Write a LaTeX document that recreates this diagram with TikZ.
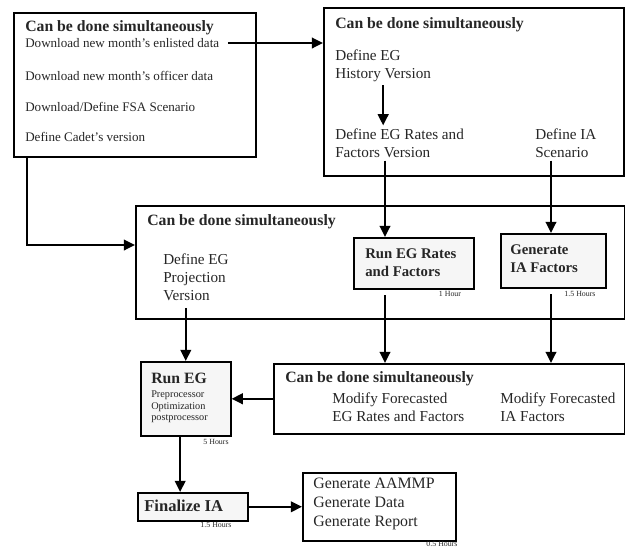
\documentclass[tikz,border=0pt]{standalone}
\usepackage{fontspec}
\setmainfont{Liberation Serif}
\usepackage{tikz}
\usetikzlibrary{arrows.meta, positioning, calc}
\tikzstyle{arrow} = [line width=1.7pt, -{Triangle[length=8pt, width=7.5pt]}]

\begin{document}
\begin{tikzpicture}[
  x=0.025cm, y=-0.025cm,
  grp/.style={draw, line width=1.1pt, anchor=north west, inner sep=0pt},
  task/.style={draw, line width=1.1pt, fill=gray!7, anchor=north west, inner sep=0pt},
  ttl/.style={anchor=west, inner sep=0pt, font=\fontsize{11.2}{13}\selectfont\bfseries},
  txt/.style={anchor=west, inner sep=0pt, align=left, font=\fontsize{10.8}{12.8}\selectfont},
  small/.style={anchor=west, inner sep=0pt, font=\fontsize{9.3}{11}\selectfont},
  tiny/.style={inner sep=0pt, font=\fontsize{5.6}{6}\selectfont},
  every node/.style={text=black!85}
]
\useasboundingbox (0,0) rectangle (625,547);

% First group: downloads
\node[grp, minimum width=6.05cm, minimum height=3.6cm] (grpA) at (13,12) {};
\node[ttl] (ttlA) at (25,28) {Can be done simultaneously};
\node[small] (dlEnl) at (25,43) {Download new month's enlisted data};
\node[small] (dlOff) at (25,76) {Download new month's officer data};
\node[small] (dlFsa) at (25,107) {Download/Define FSA Scenario};
\node[small] (cadet) at (25,137) {Define Cadet's version};

% Second group: versions and scenario
\node[grp, minimum width=7.5cm, minimum height=4.2cm] (grpB) at (323,7) {};
\node[ttl] (ttlB) at (335,25) {Can be done simultaneously};
\node[txt] (histB) at (335,66) {Define EG\\History Version};
\node[txt] (ratesB) at (335,143) {Define EG Rates and\\Factors Version};
\node[txt] (scenB) at (535,143) {Define IA\\Scenario};

% Third group: projection and runs
\node[grp, minimum width=12.225cm, minimum height=2.825cm] (grpC) at (135,205) {};
\node[ttl] (ttlC) at (147,222) {Can be done simultaneously};
\node[txt] (projC) at (163,277) {Define EG\\Projection\\Version};
\node[task, minimum width=3cm, minimum height=1.275cm] (runR) at (353,237) {};
\node[txt, font=\fontsize{10.5}{12.6}\selectfont\bfseries] (runRtxt) at (365,263) {Run EG Rates\\and Factors};
\node[tiny] (hrR) at (450,294) {1 Hour};
\node[task, minimum width=2.625cm, minimum height=1.35cm] (genI) at (500,233) {};
\node[txt, font=\fontsize{10.5}{12.6}\selectfont\bfseries] (genItxt) at (510,259) {Generate\\IA Factors};
\node[tiny] (hrI) at (580,294) {1.5 Hours};

% Run EG
\node[task, minimum width=2.25cm, minimum height=1.85cm] (runEG) at (140,361) {};
\node[ttl] (runEGttl) at (151,378) {Run EG};
\node[anchor=west, inner sep=0pt, align=left, font=\fontsize{7.3}{8.2}\selectfont] (runEGtxt) at (151,407) {Preprocessor\\Optimization\\postprocessor};
\node[tiny] (hrEG) at (216,442) {5 Hours};

% Fourth group: modify forecasts
\node[grp, minimum width=8.775cm, minimum height=1.75cm] (grpD) at (273,363) {};
\node[ttl] (ttlD) at (285,379) {Can be done simultaneously};
\node[txt] (modEG) at (332,407) {Modify Forecasted\\EG Rates and Factors};
\node[txt] (modIA) at (500,407) {Modify Forecasted\\IA Factors};

% Finalize and outputs
\node[task, minimum width=2.75cm, minimum height=0.7cm] (finIA) at (137,492) {};
\node[ttl, font=\fontsize{11.8}{13}\selectfont\bfseries] (finIAtxt) at (144,506) {Finalize IA};
\node[tiny] (hrFin) at (216,525) {1.5 Hours};
\node[grp, minimum width=3.825cm, minimum height=1.7cm] (grpE) at (302,472) {};
\node[txt, font=\fontsize{11.3}{13.4}\selectfont] (genE) at (313,504) {Generate AAMMP\\Generate Data\\Generate Report};
\node[tiny] (hrE) at (442,544) {0.5 Hours};

% Connectors
\coordinate (colR) at (385,0);
\coordinate (colI) at (551,0);
\coordinate (bend) at (27,245);
\draw[arrow] ([xshift=6pt]dlEnl.east) -- (dlEnl.east -| grpB.west);
\draw[arrow] (grpA.south -| bend) -- (bend) -- (bend -| grpC.west);
\draw[arrow] ([yshift=-2pt]histB.south) -- ([yshift=2pt]histB.south |- ratesB.north);
\draw[arrow] ([yshift=-2pt]ratesB.south -| colR) -- (runR.north -| colR);
\draw[arrow] ([yshift=-2pt]scenB.south -| colI) -- (genI.north -| colI);
\draw[arrow] ([yshift=-5pt]projC.south -| runEG.north) -- (runEG.north);
\draw[arrow] ([yshift=-4pt]runR.south -| colR) -- (grpD.north -| colR);
\draw[arrow] ([yshift=-4pt]genI.south -| colI) -- (grpD.north -| colI);
\draw[arrow] (grpD.west |- runEG.east) -- (runEG.east);
\draw[arrow] ([xshift=-4pt]runEG.south) -- ([xshift=-4pt]runEG.south |- finIA.north);
\draw[arrow] (finIA.east) -- (finIA.east -| grpE.west);

\end{tikzpicture}
\end{document}
